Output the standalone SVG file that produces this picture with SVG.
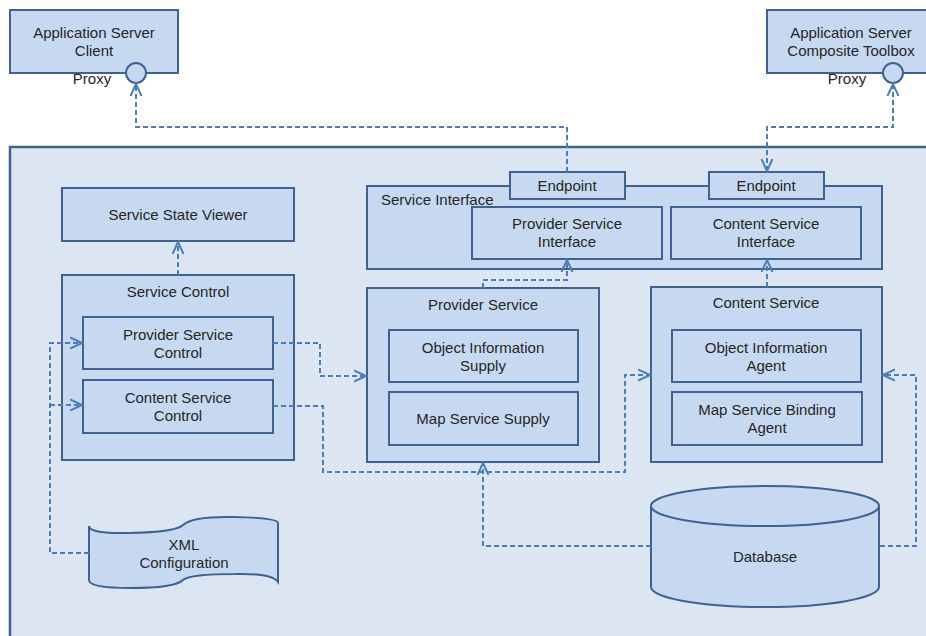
<svg xmlns="http://www.w3.org/2000/svg" width="926" height="636" viewBox="0 0 926 636">
<defs>
<style>
.box{fill:#c6d9f0;stroke:#3f6292;stroke-width:2}
.bg{fill:#dce6f2;stroke:#3f6292;stroke-width:2.5}
.t{font-family:"Liberation Sans",Arial,sans-serif;font-size:15px;fill:#262626;text-anchor:middle}
.tl{text-anchor:start}
.c{fill:none;stroke:#4a7ebb;stroke-width:2;stroke-dasharray:5,3}
</style>
<marker id="a" markerUnits="userSpaceOnUse" markerWidth="14" markerHeight="14" refX="12" refY="6" orient="auto-start-reverse" viewBox="0 0 14 12">
<path d="M0,0.5 L12,6 L0,11.5" fill="none" stroke="#4a7ebb" stroke-width="2"/>
</marker>
</defs>
<rect width="926" height="636" fill="#ffffff"/>
<rect id="container" class="bg" x="10" y="147" width="940" height="500"/>

<g id="client">
<rect class="box" x="10" y="10" width="168" height="63"/>
<text class="t" x="94" y="38">Application Server</text>
<text class="t" x="94" y="56">Client</text>
<circle class="box" cx="136" cy="73" r="10"/>
<text class="t" x="92" y="84">Proxy</text>
</g>
<g id="toolbox">
<rect class="box" x="767" y="10" width="168" height="63"/>
<text class="t" x="851" y="38">Application Server</text>
<text class="t" x="851" y="56">Composite Toolbox</text>
<circle class="box" cx="893" cy="73" r="10"/>
<text class="t" x="847" y="84">Proxy</text>
</g>

<g id="service-interface">
<rect class="box" x="367" y="186" width="515" height="83"/>
<text class="t tl" x="381" y="205">Service Interface</text>
</g>
<g id="endpoint1">
<rect class="box" x="510" y="172" width="115" height="27"/>
<text class="t" x="567" y="191">Endpoint</text>
</g>
<g id="endpoint2">
<rect class="box" x="709" y="172" width="115" height="27"/>
<text class="t" x="766" y="191">Endpoint</text>
</g>
<g id="provider-service-interface">
<rect class="box" x="472" y="207" width="190" height="52"/>
<text class="t" x="567" y="229">Provider Service</text>
<text class="t" x="567" y="247">Interface</text>
</g>
<g id="content-service-interface">
<rect class="box" x="671" y="207" width="190" height="52"/>
<text class="t" x="766" y="229">Content Service</text>
<text class="t" x="766" y="247">Interface</text>
</g>

<g id="service-state-viewer">
<rect class="box" x="62" y="188" width="232" height="53"/>
<text class="t" x="178" y="220">Service State Viewer</text>
</g>
<g id="service-control">
<rect class="box" x="62" y="275" width="232" height="185"/>
<text class="t" x="178" y="297">Service Control</text>
</g>
<g id="provider-service-control">
<rect class="box" x="83" y="317" width="190" height="52"/>
<text class="t" x="178" y="340">Provider Service</text>
<text class="t" x="178" y="358">Control</text>
</g>
<g id="content-service-control">
<rect class="box" x="83" y="380" width="190" height="53"/>
<text class="t" x="178" y="403">Content Service</text>
<text class="t" x="178" y="421">Control</text>
</g>

<g id="provider-service">
<rect class="box" x="367" y="288" width="232" height="174"/>
<text class="t" x="483" y="310">Provider Service</text>
</g>
<g id="object-information-supply">
<rect class="box" x="389" y="330" width="189" height="52"/>
<text class="t" x="483" y="353">Object Information</text>
<text class="t" x="483" y="371">Supply</text>
</g>
<g id="map-service-supply">
<rect class="box" x="389" y="392" width="189" height="53"/>
<text class="t" x="483" y="424">Map Service Supply</text>
</g>

<g id="content-service">
<rect class="box" x="651" y="287" width="231" height="175"/>
<text class="t" x="766" y="308">Content Service</text>
</g>
<g id="object-information-agent">
<rect class="box" x="672" y="330" width="189" height="52"/>
<text class="t" x="766" y="353">Object Information</text>
<text class="t" x="766" y="371">Agent</text>
</g>
<g id="map-service-binding-agent">
<rect class="box" x="672" y="392" width="190" height="53"/>
<text class="t" x="767" y="415">Map Service Binding</text>
<text class="t" x="767" y="433">Agent</text>
</g>

<g id="xml-configuration">
<path class="box" d="M89,526 Q89,534 130,533 Q176,532 183,525 Q192,516 235,517 Q278,518 278,523 L278,582 Q272,573 235,574 Q190,574 183,580 Q175,588 130,588 Q89,588 89,580 Z"/>
<text class="t" x="184" y="550">XML</text>
<text class="t" x="184" y="568">Configuration</text>
</g>

<g id="database">
<path class="box" d="M651,506 L651,587 A114,20 0 0 0 879,587 L879,506"/>
<ellipse class="box" cx="765" cy="506" rx="114" ry="20"/>
<text class="t" x="765" y="562">Database</text>
</g>

<g id="connectors">
<path class="c" d="M567,172 V127 H136 V84" marker-end="url(#a)"/>
<path class="c" d="M893,84 V127 H767 V171" marker-start="url(#a)" marker-end="url(#a)"/>
<path class="c" d="M178,275 V242" marker-end="url(#a)"/>
<path class="c" d="M483,288 V280 H567 V260" marker-end="url(#a)"/>
<path class="c" d="M767,287 V260" marker-end="url(#a)"/>
<path class="c" d="M89,553 H50 V343 H82" marker-end="url(#a)"/>
<path class="c" d="M50,405 H82" marker-end="url(#a)"/>
<path class="c" d="M273,343 H320 V376 H366" marker-end="url(#a)"/>
<path class="c" d="M273,406 H323 V472 H625 V375 H650" marker-end="url(#a)"/>
<path class="c" d="M651,546 H483 V463" marker-end="url(#a)"/>
<path class="c" d="M880,546 H916 V375 H883" marker-end="url(#a)"/>
</g>
</svg>
